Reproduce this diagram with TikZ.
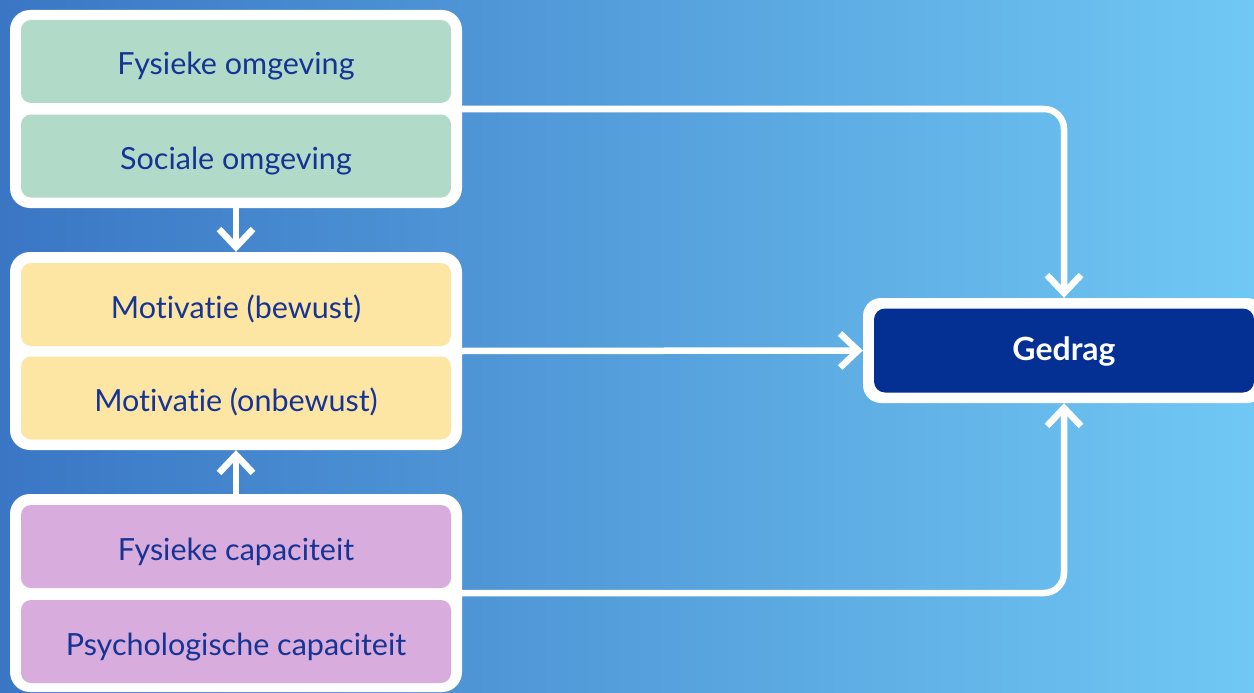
\documentclass[tikz,border=0pt]{standalone}
\usepackage{fontspec}
\setmainfont{Lato}[Ligatures=NoCommon]
\usetikzlibrary{arrows.meta}

\definecolor{bgleft}{RGB}{58,118,196}
\definecolor{bgright}{RGB}{112,200,244}
\definecolor{envfill}{RGB}{178,218,201}
\definecolor{motfill}{RGB}{253,229,164}
\definecolor{capfill}{RGB}{216,172,220}
\definecolor{labeltext}{RGB}{22,52,148}
\definecolor{gedragfill}{RGB}{3,48,146}

\tikzset{
  group/.style={fill=white, draw=none, rounded corners=20pt, inner sep=0pt,
    minimum width=452pt, minimum height=198pt},
  cell/.style={draw=none, rounded corners=10pt, inner sep=0pt,
    minimum width=430pt, minimum height=83pt, text=labeltext,
    text height=30pt, text depth=3pt,
    font=\fontsize{30.5}{34}\selectfont},
  conn/.style={draw=white, line width=6.5pt, rounded corners=20pt,
    -{Straight Barb[length=18pt,width=34pt]}},
}

\begin{document}
\begin{tikzpicture}[x=1pt, y=-1pt]
  \useasboundingbox (0,0) rectangle (1254,693);
  \clip (0,0) rectangle (1254,693);
  % background
  \shade[left color=bgleft, right color=bgright] (0,0) rectangle (1254,693);

  % environment group
  \node[group] (env) at (236,109) {};
  \node[cell, fill=envfill] (fysomg) at (236,61.5) {Fysieke omgeving};
  \node[cell, fill=envfill] (socomg) at (236,156) {Sociale omgeving};

  % motivation group
  \node[group] (mot) at (236,351) {};
  \node[cell, fill=motfill] (motb) at (236,304.5) {Motivatie (bewust)};
  \node[cell, fill=motfill] (motob) at (236,398) {Motivatie (onbewust)};

  % capacity group
  \node[group] (cap) at (236,593) {};
  \node[cell, fill=capfill] (fyscap) at (236,546.5) {Fysieke capaciteit};
  \node[cell, fill=capfill] (psycap) at (236,641.5) {Psychologische capaciteit};

  % behaviour
  \node[fill=white, rounded corners=18pt, inner sep=0pt,
    minimum width=402pt, minimum height=105pt] (gedragout) at (1064,350.5) {};
  \node[fill=gedragfill, rounded corners=11pt, inner sep=0pt,
    minimum width=380pt, minimum height=84pt, text=white,
    text height=22pt, text depth=3pt,
    font=\fontsize{32}{36}\selectfont\bfseries] (gedrag) at (1064,350.5) {Gedrag};

  % connectors
  \draw[conn] (env.south) -- (mot.north);
  \draw[conn] (cap.north) -- (mot.south);
  \draw[conn] (mot.east) -- (gedragout.west);
  \draw[conn] (env.east) -| (gedragout.north);
  \draw[conn] (cap.east) -| (gedragout.south);
\end{tikzpicture}
\end{document}
